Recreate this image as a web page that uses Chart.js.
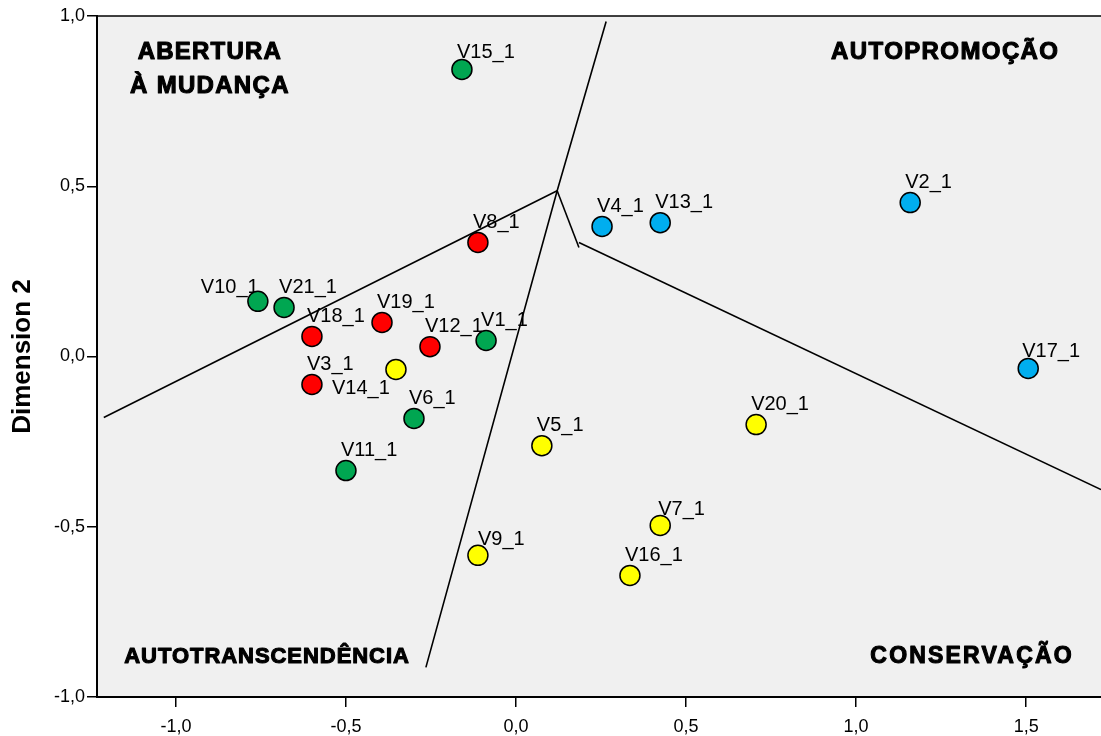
<!DOCTYPE html>
<html>
<head>
<meta charset="utf-8">
<script src="https://cdn.jsdelivr.net/npm/chart.js@4.4.1/dist/chart.umd.min.js"></script>
<style>
    html, body { margin: 0; padding: 0; background: #ffffff; }
</style>
</head>
<body>
<canvas id="mdsChart" width="1101" height="736"></canvas>
<script>
// Points per group (Dimension 1 = x, Dimension 2 = y)
var greenNames = ['V15_1', 'V10_1', 'V21_1', 'V1_1', 'V6_1', 'V11_1'];
var greenX = [-0.159, -0.759, -0.682, -0.088, -0.300, -0.500];
var greenY = [0.843, 0.162, 0.144, 0.047, -0.182, -0.335];

var redNames = ['V8_1', 'V18_1', 'V19_1', 'V12_1', 'V3_1'];
var redX = [-0.112, -0.600, -0.394, -0.253, -0.600];
var redY = [0.335, 0.059, 0.100, 0.029, -0.082];

var yellowNames = ['V14_1', 'V5_1', 'V9_1', 'V7_1', 'V16_1', 'V20_1'];
var yellowX = [-0.353, 0.076, -0.112, 0.424, 0.335, 0.706];
var yellowY = [-0.038, -0.262, -0.584, -0.496, -0.643, -0.200];

var blueNames = ['V4_1', 'V13_1', 'V2_1', 'V17_1'];
var blueX = [0.253, 0.424, 1.159, 1.506];
var blueY = [0.382, 0.393, 0.452, -0.035];

// Region boundaries drawn by hand on the plot
var boundaryA = [[-1.212, -0.179], [0.121, 0.487]];
var boundaryB = [[0.265, 0.984], [0.121, 0.487], [-0.265, -0.913]];
var boundaryC = [[0.121, 0.487], [0.185, 0.320]];
var boundaryD = [[0.185, 0.335], [1.72, -0.391]];

// Quadrant captions
var regionText = ['ABERTURA', 'À MUDANÇA', 'AUTOPROMOÇÃO', 'AUTOTRANSCENDÊNCIA', 'CONSERVAÇÃO'];
var regionX = [-0.900, -0.900, 1.262, -0.732, 1.341];
var regionY = [0.893, 0.793, 0.893, -0.881, -0.881];

var xTicks = [-1.0, -0.5, 0.0, 0.5, 1.0, 1.5];
var yTicks = [-1.0, -0.5, 0.0, 0.5, 1.0];

function toPoints(xs, ys) {
    return xs.map(function (x, i) { return { x: x, y: ys[i] }; });
}
function toLine(pairs) {
    return pairs.map(function (p) { return { x: p[0], y: p[1] }; });
}
function fmt(v) {
    return Number(v).toFixed(1).replace('.', ',');
}

// labels that are not in the usual spot above-right of the marker
var labelOffsets = {
    'V10_1': [-57, -14],
    'V14_1': [-64, 19],
    'V9_1': [0, -16],
    'V7_1': [-2, -16],
    'V17_1': [-6, -17],
    'V15_1': [-5, -17]
};

var plotBackground = {
    id: 'plotBackground',
    beforeDraw: function (chart) {
        var a = chart.chartArea, ctx = chart.ctx;
        ctx.save();
        ctx.fillStyle = '#F0F0F0';
        ctx.fillRect(a.left, a.top, a.right - a.left, a.bottom - a.top);
        ctx.restore();
    },
    afterDraw: function (chart) {
        var a = chart.chartArea, ctx = chart.ctx;
        ctx.save();
        ctx.strokeStyle = '#000';
        ctx.lineWidth = 1.5;
        ctx.beginPath();
        ctx.moveTo(a.left, a.top);
        ctx.lineTo(a.right, a.top);
        ctx.stroke();
        ctx.restore();
    }
};

var pointLabels = {
    id: 'pointLabels',
    beforeDatasetsDraw: function (chart) {
        var ctx = chart.ctx;
        ctx.save();
        ctx.font = '20px "Liberation Sans", Arial, sans-serif';
        ctx.fillStyle = '#000';
        ctx.textAlign = 'left';
        ctx.textBaseline = 'middle';
        chart.data.datasets.forEach(function (ds, i) {
            if (!ds.names) return;
            chart.getDatasetMeta(i).data.forEach(function (pt, j) {
                var name = ds.names[j];
                var off = labelOffsets[name] || [-5, -20];
                ctx.fillText(name, pt.x + off[0], pt.y + off[1]);
            });
        });
        ctx.restore();
    }
};

var regionLabels = {
    id: 'regionLabels',
    afterDatasetsDraw: function (chart) {
        var ctx = chart.ctx, xs = chart.scales.x, ys = chart.scales.y;
        var sizes = [24, 24, 24, 22, 23];
        var spacing = ['1.2px', '1.3px', '1.4px', '0.95px', '2.2px'];
        ctx.save();
        ctx.fillStyle = '#000';
        ctx.strokeStyle = '#000';
        ctx.lineWidth = 1.1;
        ctx.lineJoin = 'round';
        ctx.textAlign = 'center';
        ctx.textBaseline = 'middle';
        regionText.forEach(function (t, i) {
            ctx.font = 'bold ' + sizes[i] + 'px "Liberation Sans", Arial, sans-serif';
            ctx.letterSpacing = spacing[i];
            var px = xs.getPixelForValue(regionX[i]), py = ys.getPixelForValue(regionY[i]);
            ctx.fillText(t, px, py);
            ctx.strokeText(t, px, py);
        });
        ctx.restore();
    }
};

var ctx = document.getElementById('mdsChart').getContext('2d');

function pointSet(names, xs, ys, color) {
    return {
        names: names,
        data: toPoints(xs, ys),
        backgroundColor: color,
        borderColor: '#000',
        borderWidth: 1.5,
        pointRadius: 10,
        pointHoverRadius: 10,
        order: 1
    };
}
function lineSet(pairs) {
    return {
        data: toLine(pairs),
        showLine: true,
        borderColor: '#000',
        borderWidth: 1.6,
        pointRadius: 0,
        fill: false,
        order: 2
    };
}

new Chart(ctx, {
    type: 'scatter',
    data: {
        datasets: [
            pointSet(greenNames, greenX, greenY, '#00A651'),
            pointSet(redNames, redX, redY, '#FF0000'),
            pointSet(yellowNames, yellowX, yellowY, '#FFFF00'),
            pointSet(blueNames, blueX, blueY, '#00AEEF'),
            lineSet(boundaryA),
            lineSet(boundaryB),
            lineSet(boundaryC),
            lineSet(boundaryD)
        ]
    },
    options: {
        responsive: false,
        animation: false,
        layout: { autoPadding: false, padding: { top: 16, right: 0, left: 0, bottom: 0 } },
        plugins: {
            legend: { display: false },
            tooltip: { enabled: false }
        },
        scales: {
            x: {
                type: 'linear',
                min: -1.232,
                max: 1.72,
                afterBuildTicks: function (scale) {
                    scale.ticks = xTicks.map(function (v) { return { value: v }; });
                },
                afterFit: function (scale) {
                    scale.height = 39;
                    scale.paddingLeft = 0;
                    scale.paddingRight = 0;
                },
                ticks: {
                    color: '#000',
                    padding: 9,
                    font: { family: '"Liberation Sans", Arial, sans-serif', size: 18 },
                    callback: fmt
                },
                grid: {
                    drawOnChartArea: false,
                    drawTicks: true,
                    tickLength: 10,
                    color: '#000',
                    lineWidth: 1.5
                },
                border: { display: true, color: '#000', width: 2 }
            },
            y: {
                type: 'linear',
                min: -1,
                max: 1,
                afterBuildTicks: function (scale) {
                    scale.ticks = yTicks.map(function (v) { return { value: v }; });
                },
                afterFit: function (scale) { scale.width = 97; },
                title: {
                    display: true,
                    text: 'Dimension 2',
                    color: '#000',
                    padding: { top: 7, bottom: 0 },
                    font: { family: '"Liberation Sans", Arial, sans-serif', size: 26, weight: 'bold' }
                },
                ticks: {
                    color: '#000',
                    padding: 2,
                    font: { family: '"Liberation Sans", Arial, sans-serif', size: 18 },
                    callback: fmt
                },
                grid: {
                    drawOnChartArea: false,
                    drawTicks: true,
                    tickLength: 10,
                    color: '#000',
                    lineWidth: 1.5
                },
                border: { display: true, color: '#000', width: 2 }
            }
        }
    },
    plugins: [plotBackground, pointLabels, regionLabels]
});
</script>
</body>
</html>
